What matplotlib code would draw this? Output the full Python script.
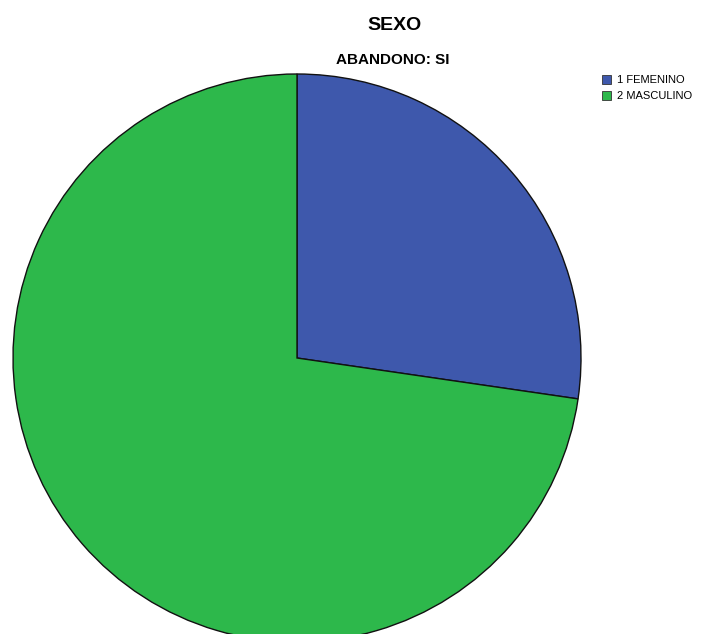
import matplotlib.pyplot as plt
from matplotlib.patches import Patch

plt.rcParams['font.family'] = ['Liberation Sans', 'DejaVu Sans']

labels = ["1 FEMENINO", "2 MASCULINO"]
values = [27.3, 72.7]
colors = ["#3e58ac", "#2db84b"]

W, H = 710, 634
cx, cy, r = 297, 358, 284

fig = plt.figure(figsize=(W / 100, H / 100), dpi=100)
pad = 4
ax = fig.add_axes([(cx - r - pad) / W, (H - cy - r - pad) / H,
                   (2 * r + 2 * pad) / W, (2 * r + 2 * pad) / H])
ax.pie(values, colors=colors, startangle=90, counterclock=False,
       radius=1.0, wedgeprops=dict(edgecolor="#111111", linewidth=1.0))
lim = 1.0 + pad / r
ax.set_xlim(-lim, lim)
ax.set_ylim(-lim, lim)
ax.axis("off")

fig.text(395 / W, 1 - 25 / H, "SEXO", ha="center", va="center",
         fontsize=14, fontweight="bold")
fig.text(393 / W, 1 - 60 / H, "ABANDONO: SI", ha="center", va="center",
         fontsize=11, fontweight="bold")

handles = [Patch(facecolor=c, edgecolor="#333333", linewidth=0.6) for c in colors]
fig.legend(handles, labels, loc="upper left", bbox_to_anchor=(602 / W, 1 - 75 / H),
           frameon=False, fontsize=8, handlelength=0.85, handleheight=0.85,
           handletextpad=0.5, labelspacing=0.5, borderpad=0, borderaxespad=0)

fig.savefig("out.png", dpi=100)
